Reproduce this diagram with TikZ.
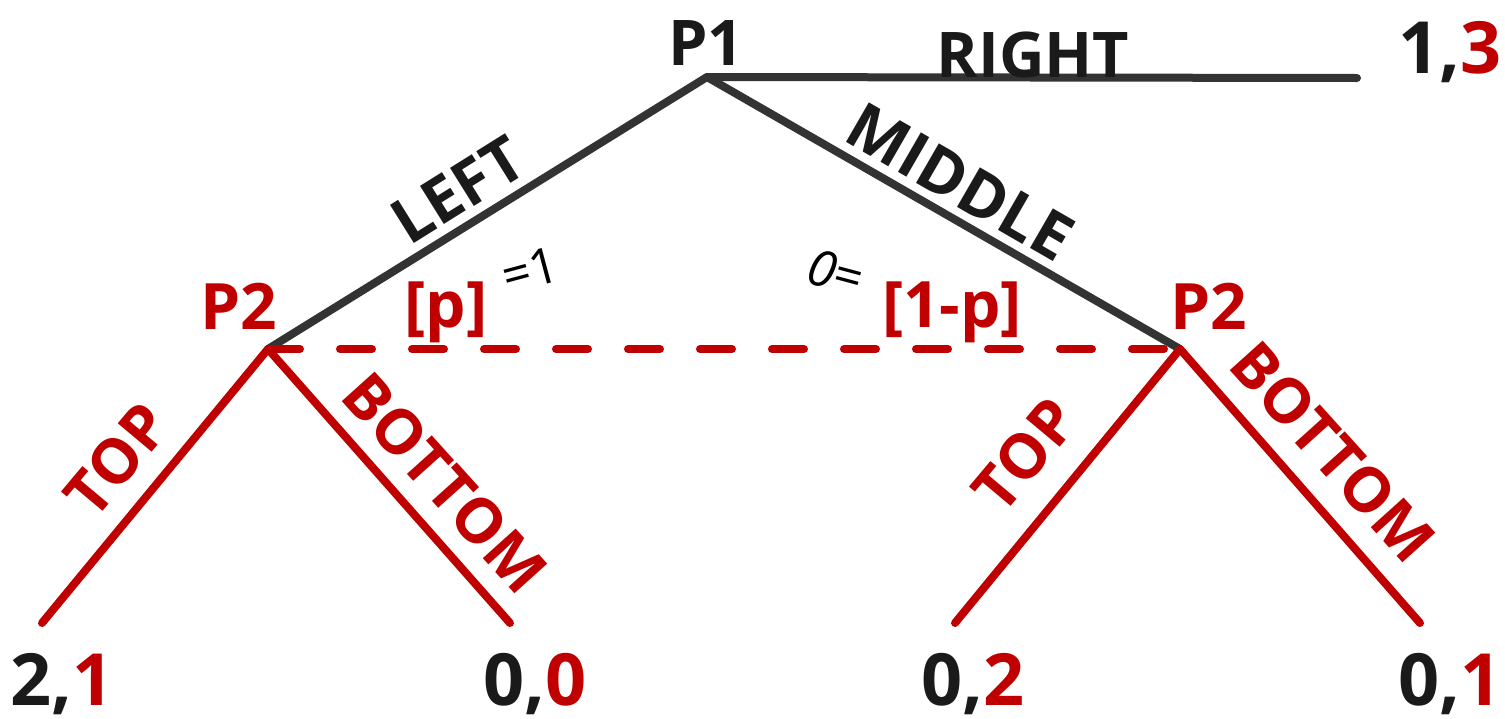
\documentclass[tikz,border=0pt]{standalone}
\usepackage{fontspec}
\setmainfont{Open Sans}
\definecolor{pred}{HTML}{C00000}
\definecolor{pline}{HTML}{333333}
\definecolor{ptext}{HTML}{1A1A1A}
\begin{document}
\begin{tikzpicture}[x=1pt,y=-1pt,
  txt/.style={inner sep=0pt, font=\bfseries\fontsize{#1}{#1}\selectfont},
  blk/.style={txt=#1, text=ptext},
  red/.style={txt=#1, text=pred},
  hand/.style={inner sep=0pt, text=black, font=\fontsize{#1}{#1}\selectfont},
  darkedge/.style={draw=pline, line width=8pt, line cap=round, line join=round},
  rededge/.style={draw=pred, line width=8pt, line cap=round, line join=round},
  infoset/.style={draw=pred, line width=8pt, line cap=round, dash pattern=on 32pt off 40pt}]
\useasboundingbox (0,0) rectangle (1505,718);
% tree vertices
\coordinate (root) at (707,77);
\coordinate (rend) at (1357,78);
\coordinate (l2) at (268,349);
\coordinate (r2) at (1180,349);
\coordinate (ll) at (42,623);
\coordinate (lr) at (510,623);
\coordinate (rl) at (955,623);
\coordinate (rr) at (1420,623);
% edges
\draw[darkedge] (root) -- (rend);
\draw[darkedge] (l2) -- (root) -- (r2);
\draw[rededge] (ll) -- (l2) -- (lr);
\draw[rededge] (rl) -- (r2) -- (rr);
\draw[infoset] (l2) -- (r2);
% player labels
\node[blk=63, anchor=base] (tP1) at (706,65) {P1};
\node[red=64, anchor=base] (tP2l) at (239,329) {P2};
\node[red=64, anchor=base] (tP2r) at (1209,329) {P2};
% action labels
\node[blk=63, anchor=base] (tRight) at (1033,77) {RIGHT};
\node[blk=63, rotate=32] (tLeft) at (458,190) {LEFT};
\node[blk=64, rotate=-30] (tMid) at (960,182) {MIDDLE};
\node[red=62, rotate=50] (tTopL) at (117,460) {TOP};
\node[red=62, rotate=-48] (tBotL) at (445,483) {BOTTOM};
\node[red=62, rotate=50] (tTopR) at (1025,455) {TOP};
\node[red=62, rotate=-48] (tBotR) at (1333,452) {BOTTOM};
% beliefs
\node[red=64, anchor=base] (tp) at (446,327) {[p]};
\node[red=64, anchor=base] (t1p) at (952,327) {[1-p]};
\node[hand=50, rotate=15] (teq1) at (530,270) {=1};
\node[hand=50, rotate=-15] (t0eq) at (836,272) {\itshape 0\upshape=};
% payoffs
\node[blk=72, anchor=base] (pay1) at (1450,73) {1,\textcolor{pred}{3}};
\node[blk=72, anchor=base] (pay2) at (62,705) {2,\textcolor{pred}{1}};
\node[blk=72, anchor=base] (pay3) at (535,705) {0,\textcolor{pred}{0}};
\node[blk=72, anchor=base] (pay4) at (973,705) {0,\textcolor{pred}{2}};
\node[blk=72, anchor=base] (pay5) at (1450,705) {0,\textcolor{pred}{1}};
\end{tikzpicture}
\end{document}
